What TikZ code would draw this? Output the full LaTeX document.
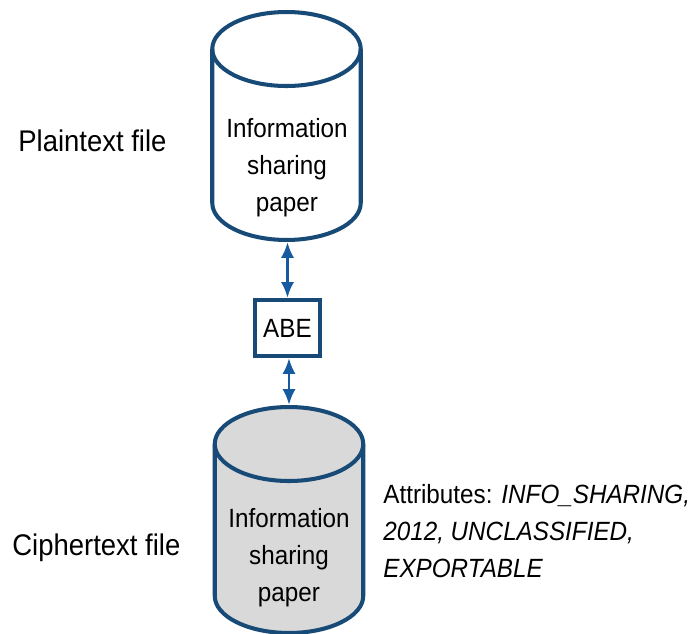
\documentclass[tikz,border=0pt]{standalone}
\usepackage{fontspec}
\setmainfont{Liberation Sans}[FakeStretch=0.92]
\usetikzlibrary{arrows.meta}
\usetikzlibrary{positioning}

\definecolor{dbblue}{RGB}{24,74,120}
\definecolor{arblue}{RGB}{22,90,160}
\definecolor{cgray}{RGB}{217,217,217}

\tikzset{
    drumline/.style={draw=dbblue,line width=2.3pt},
    drumbody/.style={rectangle,inner sep=0pt,outer sep=0pt,minimum width=2.97cm}
}

\begin{document}
\begin{tikzpicture}[x=0.02cm,y=-0.02cm]
\useasboundingbox (0,0) rectangle (697,634);

% bodies of the two files, the drums are drawn round them
\node[drumbody,minimum height=4.56cm] (plain) at (286.5,126) {};
\node[drumbody,minimum height=4.52cm] (cipher) at (289,520) {};

\foreach \n/\c in {plain/white, cipher/cgray} {
    \draw[drumline,fill=\c] ([yshift=-0.74cm]\n.north west) -- ([yshift=0.74cm]\n.south west)
        arc[start angle=180,end angle=360,x radius=1.485cm,y radius=0.74cm]
        -- ([yshift=-0.74cm]\n.north east)
        arc[start angle=0,end angle=180,x radius=1.485cm,y radius=0.74cm] -- cycle;
    \draw[drumline] ([yshift=-0.74cm]\n.north west)
        arc[start angle=180,end angle=360,x radius=1.485cm,y radius=0.74cm];
}

\begin{scope}[every node/.style={align=center,font=\fontsize{15}{21}\selectfont}]
    \node (plaintxt) at (287,168) {Information\\sharing\\paper};
    \node (ciphertxt) at (289,558) {Information\\sharing\\paper};
\end{scope}

\node[draw=dbblue,line width=2.3pt,fill=white,minimum width=1.3cm,minimum height=1.12cm,
      font=\fontsize{15}{21}\selectfont] (abe) at (287.5,328) {ABE};

\begin{scope}[every node/.style={inner sep=0pt,font=\fontsize{17}{21}\selectfont}]
    \node[anchor=base west] (plainlbl) at (18,152) {Plaintext file};
    \node[anchor=base west] (cipherlbl) at (12,556) {Ciphertext file};
\end{scope}

\node[anchor=north west,inner sep=0pt,align=left,font=\fontsize{15}{21}\selectfont] (attrs) at (383,484)
    {Attributes: \textit{INFO\_SHARING,}\\\textit{2012, UNCLASSIFIED,}\\\textit{EXPORTABLE}};

\begin{scope}[every edge/.style={draw=arblue,line width=1.7pt}]
    \path [{Latex[length=9pt,width=7.5pt]}-{Latex[length=9pt,width=7.5pt]},shorten <=1.15pt]
        (plain.south -| abe.north) edge (abe.north);
    \path [{Latex[length=9pt,width=7.5pt]}-{Latex[length=9pt,width=7.5pt]},shorten >=1.15pt]
        (abe.south -| cipher.north) edge (cipher.north);
\end{scope}
\end{tikzpicture}
\end{document}
